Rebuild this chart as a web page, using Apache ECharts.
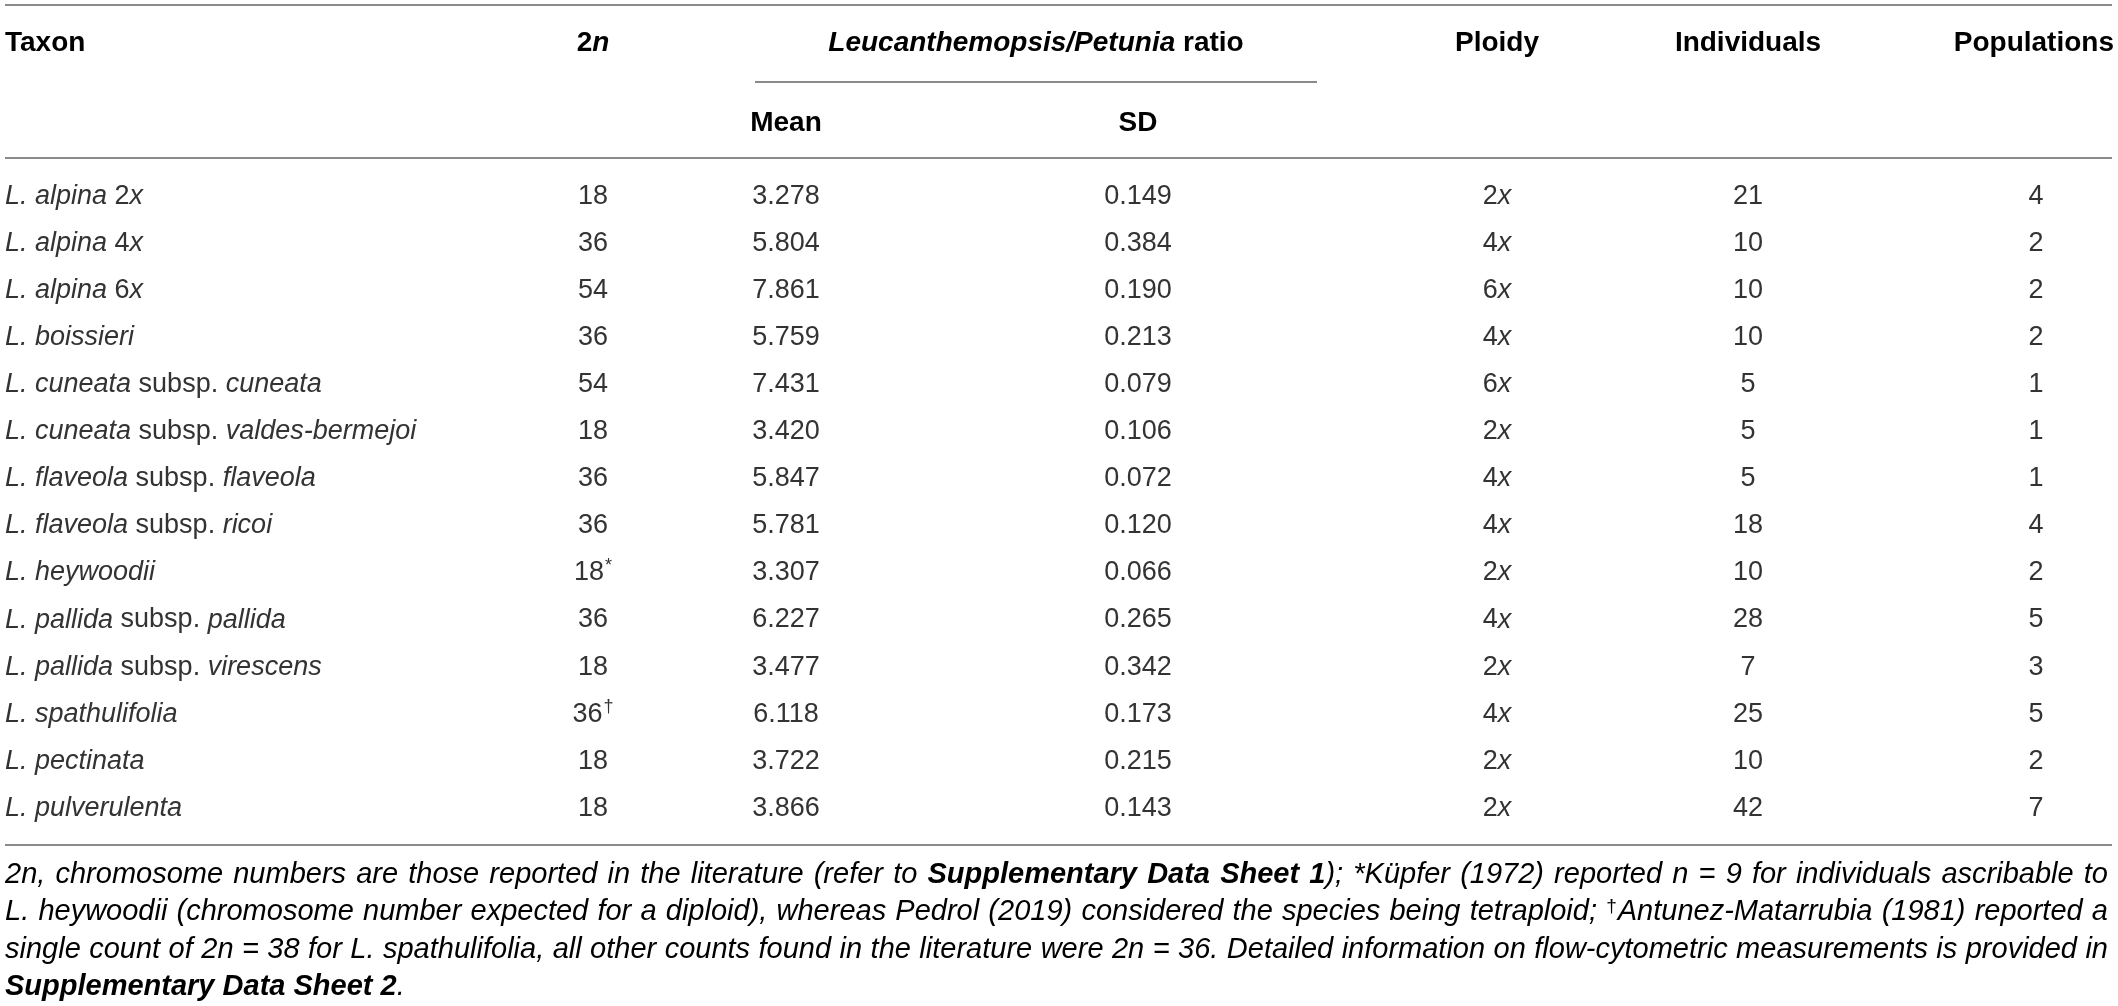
<!DOCTYPE html>
<html>
<head>
<meta charset="utf-8">
<script src="https://cdn.jsdelivr.net/npm/echarts@6/dist/echarts.min.js"></script>
<style>
  html, body { margin: 0; padding: 0; background: #fff; }
  #main { width: 2118px; height: 1006px; }
</style>
</head>
<body>
<div id="main"></div>
<script>
// table data
var taxa = [
    'L. alpina 2x', 'L. alpina 4x', 'L. alpina 6x', 'L. boissieri',
    'L. cuneata subsp. cuneata', 'L. cuneata subsp. valdes-bermejoi',
    'L. flaveola subsp. flaveola', 'L. flaveola subsp. ricoi', 'L. heywoodii',
    'L. pallida subsp. pallida', 'L. pallida subsp. virescens', 'L. spathulifolia',
    'L. pectinata', 'L. pulverulenta'
];
var chromosomes = ['18', '36', '54', '36', '54', '18', '36', '36', '18', '36', '18', '36', '18', '18'];
var chromosomeNotes = ['', '', '', '', '', '', '', '', '*', '', '', '\u2020', '', ''];
var ratioMean = [3.278, 5.804, 7.861, 5.759, 7.431, 3.420, 5.847, 5.781, 3.307, 6.227, 3.477, 6.118, 3.722, 3.866];
var ratioSD = [0.149, 0.384, 0.190, 0.213, 0.079, 0.106, 0.072, 0.120, 0.066, 0.265, 0.342, 0.173, 0.215, 0.143];
var ploidy = [2, 4, 6, 4, 6, 2, 4, 4, 2, 4, 2, 4, 2, 2];
var individuals = [21, 10, 10, 10, 5, 5, 5, 18, 10, 28, 7, 25, 10, 42];
var populations = [4, 2, 2, 2, 1, 1, 1, 4, 2, 5, 3, 5, 2, 7];

// footnote, as [style, text] pieces per line
var footnote = [
    [['i', '2n, chromosome numbers are those reported in the literature (refer to '], ['bi', 'Supplementary Data Sheet 1'],
     ['i', '); '], ['g', '*K\u00fcpfer (1972)'], ['i', ' reported n = 9 for individuals ascribable to']],
    [['i', 'L. heywoodii (chromosome number expected for a diploid), whereas '], ['g', 'Pedrol (2019)'],
     ['i', ' considered the species being tetraploid; '], ['sup', '\u2020'], ['g', 'Antunez-Matarrubia (1981)'], ['i', ' reported a']],
    [['i', 'single count of 2n = 38 for L. spathulifolia, all other counts found in the literature were 2n = 36. Detailed information on flow-cytometric measurements is provided in']],
    [['bi', 'Supplementary Data Sheet 2'], ['i', '.']]
];

// layout
var W = 2118;
var FONT = 'Liberation Sans';
var FS = 27;
var NFS = 29;
var colX = {taxon: 5, n: 593, mean: 786, sd: 1138, ploidy: 1497, ind: 1748, pop: 2036};
var TXT = '#333';
var RULE = '#8a8a8a';
var NOTE_LEFT = 5, NOTE_RIGHT = 2108;

var myChart = echarts.init(document.getElementById('main'));

// italic except "subsp." and the ploidy digit
function taxonRich(name) {
    return name.split(' ').map(function (w) {
        if (w === 'subsp.') return '{r|subsp.}';
        var m = w.match(/^(\d)x$/);
        if (m) return '{r|' + m[1] + '}{i|x}';
        return '{i|' + w + '}';
    }).join('{r| }');
}

var cellRich = {
    r: {fontFamily: FONT, fontSize: FS, color: TXT},
    i: {fontFamily: FONT, fontSize: FS, fontStyle: 'italic', color: TXT},
    sup: {fontFamily: FONT, fontSize: 18, color: TXT, verticalAlign: 'top', padding: [0, 0, 14, 1]}
};

function cell(x, y, text, align) {
    return {
        type: 'text',
        x: x,
        y: y,
        style: {
            text: text,
            rich: cellRich,
            fontFamily: FONT,
            fontSize: FS,
            fill: TXT,
            align: align || 'center',
            verticalAlign: 'middle'
        }
    };
}

function renderRow(params, api) {
    var i = api.value(0);
    var y = api.coord([0, i])[1];
    var sx = function (c) { return api.coord([colX[c], i])[0]; };
    var note = chromosomeNotes[i] ? '{sup|' + chromosomeNotes[i] + '}' : '';
    return {
        type: 'group',
        children: [
            cell(sx('taxon'), y, taxonRich(taxa[i]), 'left'),
            cell(sx('n'), y, '{r|' + chromosomes[i] + '}' + note),
            cell(sx('mean'), y, '{r|' + ratioMean[i].toFixed(3) + '}'),
            cell(sx('sd'), y, '{r|' + ratioSD[i].toFixed(3) + '}'),
            cell(sx('ploidy'), y, '{r|' + ploidy[i] + '}{i|x}'),
            cell(sx('ind'), y, '{r|' + individuals[i] + '}'),
            cell(sx('pop'), y, '{r|' + populations[i] + '}')
        ]
    };
}

var headRich = {
    b: {fontFamily: FONT, fontSize: 28, fontWeight: 'bold', color: '#1e1e1e'},
    bi: {fontFamily: FONT, fontSize: 28, fontWeight: 'bold', fontStyle: 'italic', color: '#1e1e1e'}
};

function headText(x, y, text, align) {
    return {
        type: 'text',
        x: x, y: y,
        style: {
            text: text, rich: headRich,
            fontFamily: FONT, fontSize: 28,
            align: align || 'center', verticalAlign: 'middle'
        }
    };
}

function rule(x1, x2, y) {
    return {
        type: 'line',
        shape: {x1: x1, y1: y, x2: x2, y2: y},
        style: {stroke: RULE, lineWidth: 2}
    };
}

var noteStyle = {
    i: {fontStyle: 'italic', color: '#2a2a2a', size: NFS},
    bi: {fontStyle: 'italic', fontWeight: 'bold', color: '#1e1e1e', size: NFS},
    g: {fontStyle: 'italic', color: '#8c8c8c', size: NFS},
    sup: {fontStyle: 'normal', color: '#2a2a2a', size: 19}
};
var noteRich = {
    sup: {fontFamily: FONT, fontSize: 19, color: '#2a2a2a', verticalAlign: 'top', padding: [0, 1, 12, 0]}
};
['i', 'bi', 'g'].forEach(function (k) {
    var s = noteStyle[k];
    noteRich[k] = {fontFamily: FONT, fontSize: s.size, fontStyle: s.fontStyle, fontWeight: s.fontWeight || 'normal', color: s.color};
});

// justify a footnote line by widening its spaces
var measureCtx = document.createElement('canvas').getContext('2d');
function measure(k, text) {
    var s = noteStyle[k];
    measureCtx.font = s.fontStyle + ' ' + (s.fontWeight || 'normal') + ' ' + s.size + 'px "' + FONT + '"';
    return measureCtx.measureText(text).width;
}
function justifyLine(pieces, justify) {
    var tokens = [];
    pieces.forEach(function (p) {
        p[1].split(' ').forEach(function (w, j) {
            if (j > 0) tokens.push({sp: true, k: p[0]});
            if (w) tokens.push({k: p[0], t: w});
        });
    });
    var natural = 0, nsp = 0;
    tokens.forEach(function (t) {
        if (t.sp) { natural += measure('i', ' '); nsp++; }
        else natural += measure(t.k, t.t) + (t.k === 'sup' ? 1 : 0);
    });
    var spW = measure('i', ' ');
    if (justify && nsp) spW += (NOTE_RIGHT - NOTE_LEFT - natural) / nsp;
    var rich = {};
    Object.keys(noteRich).forEach(function (k) { rich[k] = noteRich[k]; });
    rich.sp = {fontFamily: FONT, fontSize: NFS, width: spW};
    var text = tokens.map(function (t) {
        return t.sp ? '{sp| }' : '{' + t.k + '|' + t.t + '}';
    }).join('');
    return {text: text, rich: rich};
}

var graphics = [
    rule(5, 2112, 5),
    rule(755, 1317, 82),
    rule(5, 2112, 158),
    rule(5, 2112, 845),
    headText(5, 43, '{b|Taxon}', 'left'),
    headText(593, 43, '{b|2}{bi|n}'),
    headText(1036, 43, '{bi|Leucanthemopsis/Petunia}{b| ratio}'),
    headText(1497, 43, '{b|Ploidy}'),
    headText(1748, 43, '{b|Individuals}'),
    headText(2114, 43, '{b|Populations}', 'right'),
    headText(786, 123, '{b|Mean}'),
    headText(1138, 123, '{b|SD}')
];
footnote.forEach(function (line, k) {
    var j = justifyLine(line, k < footnote.length - 1);
    graphics.push({
        type: 'text',
        x: NOTE_LEFT, y: 875 + k * 37.3,
        style: {
            text: j.text, rich: j.rich,
            fontFamily: FONT, fontSize: NFS,
            align: 'left', verticalAlign: 'middle'
        }
    });
});

var option = {
    animation: false,
    grid: {left: 0, right: 0, top: 172.5, bottom: 174, containLabel: false},
    xAxis: {type: 'value', min: 0, max: W, show: false},
    yAxis: {type: 'category', data: taxa, inverse: true, show: false},
    graphic: graphics,
    series: [{
        type: 'custom',
        renderItem: renderRow,
        data: taxa.map(function (t, i) { return [i]; }),
        encode: {y: 0}
    }]
};

myChart.setOption(option);
</script>
</body>
</html>
